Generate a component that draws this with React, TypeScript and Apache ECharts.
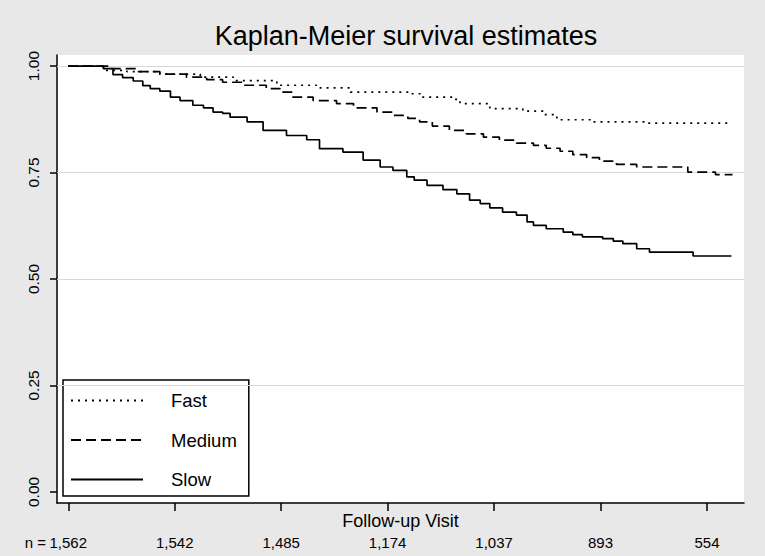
import React, { useEffect, useRef } from 'react';
import * as echarts from 'echarts';

const TITLE = 'Kaplan-Meier survival estimates';
const X_NAME = 'Follow-up Visit';
const seriesNames = ['Fast', 'Medium', 'Slow'];
const visitTicks = [0, 1, 2, 3, 4, 5, 6];
const atRisk = ['1,562', '1,542', '1,485', '1,174', '1,037', '893', '554'];
const yTicks = [0, 0.25, 0.5, 0.75, 1];
const gridValues = [0.25, 0.5, 0.75, 1];

const fast = [
  [0, 1], [0.33, 0.99], [0.55, 0.987], [0.86, 0.981], [1.24, 0.974], [1.55, 0.966],
  [1.96, 0.955], [2.33, 0.949], [2.65, 0.939], [3.21, 0.935], [3.33, 0.927], [3.61, 0.922],
  [3.68, 0.912], [3.96, 0.9], [4.27, 0.894], [4.46, 0.886], [4.59, 0.874], [4.93, 0.869],
  [5.43, 0.866], [6.2, 0.866],
];

const medium = [
  [0, 1], [0.39, 0.994], [0.64, 0.987], [0.86, 0.981], [1.11, 0.974], [1.3, 0.968],
  [1.45, 0.962], [1.64, 0.955], [1.86, 0.947], [1.99, 0.939], [2.11, 0.927], [2.3, 0.919],
  [2.52, 0.912], [2.68, 0.902], [2.9, 0.892], [3.05, 0.884], [3.19, 0.877], [3.3, 0.869],
  [3.42, 0.859], [3.58, 0.849], [3.74, 0.841], [3.9, 0.833], [4.05, 0.826], [4.21, 0.819],
  [4.37, 0.814], [4.49, 0.807], [4.62, 0.8], [4.74, 0.792], [4.87, 0.785], [4.99, 0.777],
  [5.15, 0.769], [5.34, 0.763], [5.82, 0.751], [6.08, 0.745], [6.24, 0.745],
];

const slow = [
  [0, 1], [0.33, 0.994], [0.42, 0.98], [0.51, 0.973], [0.61, 0.965], [0.7, 0.954],
  [0.77, 0.947], [0.86, 0.941], [0.96, 0.927], [1.05, 0.919], [1.17, 0.908], [1.27, 0.902],
  [1.36, 0.892], [1.45, 0.889], [1.52, 0.88], [1.68, 0.869], [1.83, 0.849], [2.05, 0.837],
  [2.24, 0.827], [2.36, 0.806], [2.58, 0.798], [2.77, 0.779], [2.93, 0.763], [3.05, 0.755],
  [3.18, 0.74], [3.25, 0.732], [3.37, 0.72], [3.52, 0.71], [3.65, 0.7], [3.77, 0.685],
  [3.87, 0.677], [3.96, 0.667], [4.08, 0.657], [4.21, 0.65], [4.31, 0.634], [4.37, 0.626],
  [4.49, 0.618], [4.65, 0.61], [4.74, 0.604], [4.83, 0.599], [5.02, 0.595], [5.12, 0.589],
  [5.21, 0.583], [5.34, 0.571], [5.46, 0.563], [5.87, 0.554], [6.23, 0.554],
];

const FONT = '"Liberation Sans", Arial, Helvetica, sans-serif';

export default function App() {
  const ref = useRef<HTMLDivElement>(null);
  useEffect(() => {
    const chart = echarts.init(ref.current as HTMLDivElement, null, { renderer: 'svg' });
    const lineBase = { type: 'line', step: 'end', showSymbol: false, symbol: 'none', z: 5 };
    chart.setOption({
      animation: false,
      backgroundColor: '#e8e8e8',
      title: {
        text: TITLE,
        left: 401,
        top: 17,
        textAlign: 'center',
        textStyle: { fontFamily: FONT, fontSize: 27, fontWeight: 'normal', color: '#000' },
      },
      grid: {
        left: 57, right: 21, top: 55, bottom: 53,
        show: true, backgroundColor: '#ffffff', borderWidth: 0,
        containLabel: false, outerBoundsMode: 'none',
      },
      xAxis: {
        type: 'value',
        min: -0.106,
        max: 6.348,
        name: X_NAME,
        nameLocation: 'middle',
        nameGap: 9,
        nameMoveOverlap: false,
        nameTextStyle: { fontFamily: FONT, fontSize: 18, color: '#000', verticalAlign: 'top' },
        axisLine: { show: true, onZero: false, lineStyle: { color: '#000', width: 1.5 } },
        axisTick: { show: true, length: 8, customValues: visitTicks, lineStyle: { color: '#000', width: 1.5 } },
        axisLabel: {
          customValues: visitTicks,
          formatter: (v: number) => atRisk[Math.round(v)] ?? '',
          margin: 32,
          fontFamily: FONT,
          fontSize: 15,
          color: '#000',
        },
        splitLine: { show: false },
      },
      yAxis: {
        type: 'value',
        min: -0.026,
        max: 1.026,
        axisLine: { show: true, onZero: false, lineStyle: { color: '#000', width: 1.5 } },
        axisTick: { show: true, length: 7, customValues: yTicks, lineStyle: { color: '#000', width: 1.5 } },
        axisLabel: {
          customValues: yTicks,
          rotate: 90,
          formatter: (v: number) => v.toFixed(2),
          margin: 16,
          fontFamily: FONT,
          fontSize: 15.5,
          color: '#000',
        },
        splitLine: { show: false },
      },
      legend: {
        data: seriesNames,
        orient: 'vertical',
        left: 63,
        top: 380,
        padding: [11, 12, 7, 7],
        itemWidth: 72,
        itemHeight: 16,
        itemGap: 20.5,
        backgroundColor: '#ffffff',
        borderColor: '#000',
        borderWidth: 1.5,
        borderRadius: 0,
        itemStyle: { color: 'rgba(0,0,0,0)', borderWidth: 0, opacity: 0 },
        textStyle: { fontFamily: FONT, fontSize: 18.5, color: '#000', padding: [0, 0, 0, 23] },
      },
      graphic: [
        {
          type: 'text',
          x: 46,
          y: 542,
          style: { text: 'n =', fontFamily: FONT, fontSize: 15, fill: '#000', align: 'right', verticalAlign: 'middle' },
        },
      ],
      series: [
        {
          type: 'line',
          name: 'grid',
          data: [],
          z: 1,
          silent: true,
          markLine: {
            silent: true,
            symbol: 'none',
            label: { show: false },
            lineStyle: { color: '#d9d9d9', width: 1, type: 'solid' },
            data: gridValues.map((v) => ({ yAxis: v })),
          },
        },
        { ...lineBase, name: 'Fast', data: fast, lineStyle: { color: '#000', width: 1.7, type: [2, 5] } },
        { ...lineBase, name: 'Medium', data: medium, lineStyle: { color: '#000', width: 1.7, type: [10, 5] } },
        { ...lineBase, name: 'Slow', data: slow, lineStyle: { color: '#000', width: 1.7, type: 'solid' } },
      ],
    });
    return () => chart.dispose();
  }, []);
  return <div ref={ref} style={{ position: 'fixed', left: 0, top: 0, width: 765, height: 556 }} />;
}
